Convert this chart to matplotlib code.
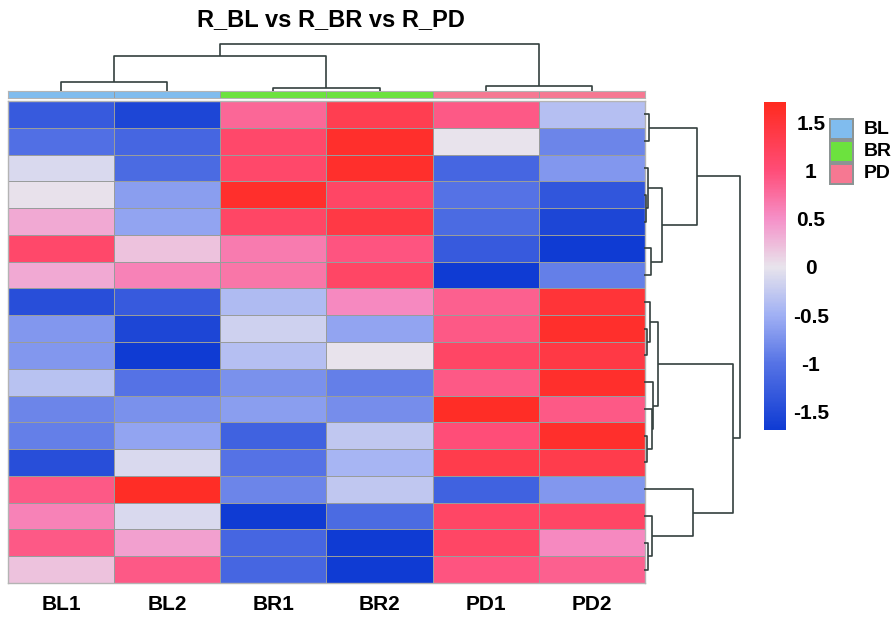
import numpy as np
import matplotlib
matplotlib.use("Agg")
import matplotlib.pyplot as plt
from matplotlib.colors import LinearSegmentedColormap, Normalize, ListedColormap
from matplotlib.cm import ScalarMappable

plt.rcParams['font.family'] = ['Liberation Sans', 'DejaVu Sans']
plt.rcParams['font.weight'] = 'bold'

# === data (rows top -> bottom) ===
samples = ["BL1", "BL2", "BR1", "BR2", "PD1", "PD2"]
groups = ["BL", "BL", "BR", "BR", "PD", "PD"]
group_names = ["BL", "BR", "PD"]
group_colors = {"BL": "#80bcee", "BR": "#6ce23e", "PD": "#f67892"}

BL1 = [-1.3, -1.05, -0.1, 0.02, 0.35, 1.1, 0.35, -1.45, -0.7, -0.7, -0.33, -0.85, -0.9, -1.45, 0.9, 0.6, 0.9, 0.2]
BL2 = [-1.55, -1.15, -1.1, -0.65, -0.6, 0.2, 0.6, -1.3, -1.55, -1.7, -1.0, -0.75, -0.6, -0.1, 1.65, -0.1, 0.4, 0.9]
BR1 = [0.8, 1.1, 1.1, 1.6, 1.15, 0.65, 0.7, -0.4, -0.18, -0.35, -0.75, -0.65, -1.2, -1.0, -0.85, -1.7, -1.15, -1.15]
BR2 = [1.3, 1.6, 1.6, 1.15, 1.4, 0.95, 1.15, 0.55, -0.6, 0.0, -0.9, -0.78, -0.27, -0.45, -0.27, -1.1, -1.7, -1.7]
PD1 = [0.9, 0.0, -1.15, -1.0, -1.1, -1.3, -1.7, 0.85, 0.9, 1.15, 0.9, 1.65, 1.0, 1.35, -1.2, 1.15, 1.15, 0.95]
PD2 = [-0.35, -0.85, -0.7, -1.35, -1.55, -1.7, -0.9, 1.5, 1.6, 1.4, 1.6, 0.9, 1.6, 1.35, -0.7, 1.15, 0.55, 0.85]

cbar_ticks = [1.5, 1, 0.5, 0, -0.5, -1, -1.5]
cbar_labels = ["1.5", "1", "0.5", "0", "-0.5", "-1", "-1.5"]

# dendrogram merges: (left, right, height) in scipy style ids
row_merges = [(0, 1, 5), (3, 4, 2), (2, 19, 4), (5, 6, 7), (20, 21, 18), (18, 22, 53),
              (8, 9, 3), (7, 24, 6), (12, 13, 3), (11, 26, 8), (10, 27, 9), (25, 28, 14),
              (16, 17, 4), (15, 30, 8), (14, 31, 49), (29, 32, 89), (23, 33, 96)]
col_merges = [(0, 1, 9), (2, 3, 3), (4, 5, 5), (6, 7, 35), (9, 8, 47)]

data = np.array([BL1, BL2, BR1, BR2, PD1, PD2]).T
n_rows, n_cols = data.shape

W, H = 895, 619
fig = plt.figure(figsize=(W / 100, H / 100), dpi=100)


def ax_px(x0, y0, x1, y1):
    return fig.add_axes([x0 / W, 1 - y1 / H, (x1 - x0) / W, (y1 - y0) / H])


cmap = LinearSegmentedColormap.from_list("bwr_like", [
    (0.0, "#0f3bd3"), (0.203, "#5673e5"), (0.35, "#a0b0f4"), (0.497, "#e8e4ec"),
    (0.644, "#f590c8"), (0.791, "#ff4d78"), (1.0, "#ff2a1f")])
norm = Normalize(vmin=-1.69, vmax=1.71)

# === heatmap ===
ax = ax_px(8, 101, 645, 583)
ax.pcolormesh(np.arange(n_cols + 1), np.arange(n_rows + 1), data, cmap=cmap, norm=norm,
              edgecolors="#999c9c", linewidth=0.5)
ax.set_xlim(0, n_cols)
ax.set_ylim(n_rows, 0)
ax.set_xticks(np.arange(n_cols) + 0.5)
ax.set_xticklabels(samples, fontsize=15, fontweight="bold")
ax.tick_params(axis="x", length=0, pad=9)
ax.set_yticks([])
for s in ax.spines.values():
    s.set_color("#b4b4b4")
    s.set_linewidth(1.0)

# === column annotation bar ===
axa = ax_px(8, 91, 645, 98)
ann_idx = [group_names.index(g) for g in groups]
ann_cmap = ListedColormap([group_colors[g] for g in group_names])
axa.pcolormesh(np.arange(n_cols + 1), [0, 1], np.array([ann_idx]), cmap=ann_cmap,
               vmin=-0.5, vmax=2.5, edgecolors="#999c9c", linewidth=0.4)
axa.set_xlim(0, n_cols)
axa.set_xticks([])
axa.set_yticks([])
for s in axa.spines.values():
    s.set_color("#b4b4b4")
    s.set_linewidth(0.8)


# === dendrograms ===
def draw_dendro(axd, merges, n, orient):
    pos = {i: i + 0.5 for i in range(n)}
    hts = {i: 0 for i in range(n)}
    for k, (a, b, h) in enumerate(merges):
        xs = [pos[a], pos[a], pos[b], pos[b]]
        ys = [hts[a], h, h, hts[b]]
        if orient == "top":
            axd.plot(xs, ys, color="#34403e", lw=1.2, solid_capstyle="butt")
        else:
            axd.plot(ys, xs, color="#34403e", lw=1.2, solid_capstyle="butt")
        pos[n + k] = (pos[a] + pos[b]) / 2
        hts[n + k] = h


axc = ax_px(8, 41, 645, 91)
draw_dendro(axc, col_merges, n_cols, "top")
axc.set_xlim(0, n_cols)
axc.set_ylim(0, 50)
axc.axis("off")

axr = ax_px(644, 101, 744, 583)
draw_dendro(axr, row_merges, n_rows, "right")
axr.set_xlim(0, 100)
axr.set_ylim(n_rows, 0)
axr.axis("off")

# === colorbar ===
cax = ax_px(764, 102, 786, 430)
cb = fig.colorbar(ScalarMappable(norm=norm, cmap=cmap), cax=cax)
cb.outline.set_visible(False)
cb.set_ticks(cbar_ticks)
cb.set_ticklabels(cbar_labels)
cax.tick_params(length=0, pad=18)
for lab in cax.get_yticklabels():
    lab.set_ha("center")
    lab.set_fontsize(15)
    lab.set_fontweight("bold")

# === group legend ===
axl = ax_px(829, 118, 854, 185)
axl.pcolormesh([0, 1], np.arange(4), np.array([[0], [1], [2]]), cmap=ann_cmap,
               vmin=-0.5, vmax=2.5, edgecolors="#8c9494", linewidth=1.5)
axl.set_xlim(0, 1)
axl.set_ylim(3, 0)
axl.axis("off")
for i, g in enumerate(group_names):
    axl.text(1.38, i + 0.5, g, fontsize=14, fontweight="bold", va="center", ha="left")

fig.text(331 / W, 1 - 20 / H, "R_BL vs R_BR vs R_PD", fontsize=17, fontweight="bold",
         ha="center", va="center")

fig.savefig("out.png", dpi=100)
